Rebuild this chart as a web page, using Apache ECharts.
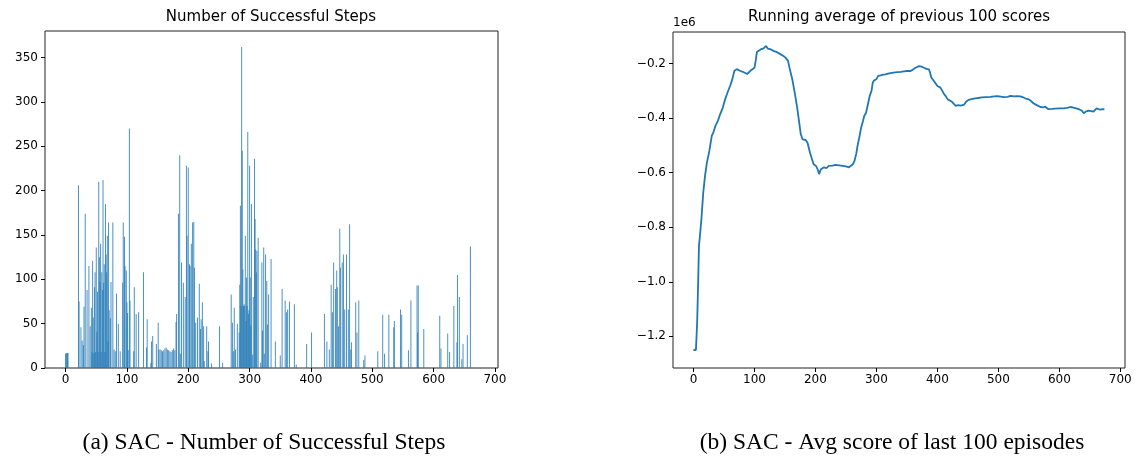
<!DOCTYPE html>
<html>
<head>
<meta charset="utf-8">
<script src="https://cdn.jsdelivr.net/npm/echarts@6/dist/echarts.min.js"></script>
<style>
  html, body { margin: 0; padding: 0; background: #fff; }
  #main { width: 1136px; height: 460px; }
</style>
</head>
<body>
<div id="main"></div>
<script>
// episodes with a non-zero number of successful steps (all others are 0)
var stepEpisodes = [0, 1, 2, 3, 4, 21, 22, 25, 27, 29, 30, 32, 35, 38, 40, 42, 43, 44, 45, 46, 47, 48, 49, 50,
  51, 52, 53, 54, 55, 56, 57, 58, 59, 60, 61, 62, 63, 64, 65, 66, 67, 68, 69, 70, 71, 73, 74, 77, 79, 81, 83,
  86, 89, 93, 94, 96, 97, 99, 100, 101, 102, 104, 105, 111, 112, 115, 119, 127, 132, 133, 139, 140, 142, 148,
  151, 152, 154, 156, 158, 160, 162, 164, 166, 168, 170, 172, 174, 176, 178, 180, 181, 184, 186, 187, 189,
  192, 195, 197, 198, 200, 202, 203, 205, 207, 209, 210, 212, 215, 218, 220, 221, 223, 225, 226, 230, 232,
  233, 238, 251, 256, 270, 272, 274, 275, 277, 280, 283, 284, 285, 286, 287, 288, 289, 290, 291, 292, 293,
  294, 295, 296, 297, 298, 299, 300, 301, 302, 303, 305, 306, 308, 309, 310, 311, 312, 314, 318, 320, 321,
  323, 324, 326, 328, 329, 331, 335, 342, 350, 353, 358, 360, 362, 365, 373, 376, 393, 401, 422, 426, 430,
  433, 435, 437, 440, 442, 443, 445, 447, 448, 451, 453, 455, 458, 461, 463, 465, 466, 473, 475, 478, 486,
  488, 509, 517, 520, 527, 535, 536, 546, 548, 559, 563, 573, 574, 575, 584, 610, 612, 623, 626, 633, 638,
  639, 642, 646, 648, 655, 660];
var stepCounts = [16, 17, 16, 17, 17, 206, 75, 46, 31, 26, 69, 174, 88, 115, 47, 68, 18, 121, 57, 17, 91, 108, 18, 136,
  41, 86, 18, 210, 125, 97, 140, 18, 108, 88, 212, 96, 117, 18, 185, 128, 108, 149, 30, 164, 65, 56, 97, 164, 21, 19, 84,
  50, 19, 96, 164, 148, 115, 110, 74, 62, 20, 270, 76, 19, 91, 61, 63, 108, 23, 55, 6, 30, 36, 27,
  51, 21, 21, 20, 19, 20, 22, 23, 21, 20, 19, 18, 20, 22, 20, 52, 61, 174, 240, 16, 119,
  96, 80, 228, 149, 226, 117, 115, 140, 164, 165, 113, 51, 57, 95, 44, 55, 74, 47, 8, 47, 19,
  30, 5, 47, 6, 83, 51, 19, 68, 21, 50, 40, 94, 183, 70, 362, 245, 111, 70, 72, 70, 149,
  53, 102, 70, 266, 61, 65, 228, 102, 48, 185, 15, 80, 236, 168, 134, 108, 132, 147, 6, 119, 42,
  136, 16, 128, 98, 49, 83, 123, 30, 14, 89, 76, 63, 66, 75, 72, 4, 27, 40, 61, 30, 21,
  94, 63, 119, 89, 110, 91, 47, 157, 113, 119, 128, 66, 128, 66, 162, 21, 29, 74, 40, 76, 9,
  14, 19, 60, 16, 60, 46, 53, 66, 60, 20, 76, 93, 40, 93, 44, 59, 22, 39, 18, 70, 29,
  105, 80, 10, 27, 37, 137];

// running average of previous 100 scores (units of 1e6)
var avgEpisodes = [0, 2, 4, 5, 6, 7, 9, 11, 13, 16, 19, 22, 26, 30, 33, 36, 40, 43, 48, 52, 56, 60, 64, 67, 71,
  74, 77, 81, 84, 88, 91, 95, 100, 102, 104, 107, 110, 115, 119, 122, 127, 132, 137, 143, 147, 151, 155,
  158, 162, 166, 170, 173, 176, 179, 181, 184, 187, 191, 194, 197, 201, 204, 206, 209, 214, 218, 222, 228,
  233, 239, 245, 250, 255, 258, 261, 264, 267, 269, 272, 275, 278, 280, 283, 285, 287, 289, 292, 294, 296,
  300, 303, 307, 311, 315, 319, 323, 328, 334, 340, 345, 350, 356, 360, 364, 367, 370, 374, 378, 382,
  386, 388, 390, 392, 394, 397, 400, 403, 405, 408, 411, 414, 417, 420, 424, 427, 430, 434, 438, 441,
  444, 447, 451, 456, 462, 467, 473, 480, 487, 493, 498, 504, 509, 515, 520, 526, 531, 536, 541, 545,
  550, 554, 558, 563, 569, 573, 577, 582, 588, 593, 600, 607, 613, 618, 623, 629, 633, 637, 640, 644,
  648, 652, 656, 659, 661, 664, 667, 671, 674];
var avgScores = [-1.250, -1.252, -1.250, -1.256, -1.150, -1.063, -0.868, -0.820, -0.770, -0.673, -0.610, -0.563,
  -0.520, -0.465, -0.450, -0.428, -0.410, -0.390, -0.362, -0.330, -0.305, -0.282, -0.255, -0.227, -0.220,
  -0.225, -0.227, -0.230, -0.235, -0.238, -0.243, -0.223, -0.215, -0.190, -0.157, -0.152, -0.148, -0.144,
  -0.135, -0.145, -0.148, -0.154, -0.158, -0.166, -0.171, -0.178, -0.190, -0.220, -0.257, -0.306, -0.360,
  -0.410, -0.459, -0.478, -0.483, -0.480, -0.490, -0.526, -0.548, -0.569, -0.575, -0.590, -0.605, -0.587,
  -0.580, -0.583, -0.575, -0.574, -0.571, -0.573, -0.575, -0.577, -0.580, -0.582, -0.570, -0.557, -0.530,
  -0.502, -0.470, -0.434, -0.410, -0.392, -0.380, -0.373, -0.340, -0.318, -0.300, -0.270, -0.262, -0.257,
  -0.245, -0.243, -0.240, -0.239, -0.237, -0.235, -0.233, -0.231, -0.230, -0.228, -0.227, -0.227, -0.222,
  -0.215, -0.212, -0.209, -0.211, -0.215, -0.219, -0.221, -0.232, -0.251, -0.245, -0.263, -0.270, -0.282,
  -0.276, -0.288, -0.300, -0.312, -0.320, -0.331, -0.335, -0.340, -0.346, -0.355, -0.352, -0.354, -0.348,
  -0.350, -0.340, -0.333, -0.330, -0.327, -0.326, -0.324, -0.323, -0.322, -0.320, -0.319, -0.321, -0.323,
  -0.322, -0.318, -0.320, -0.319, -0.320, -0.324, -0.328, -0.331, -0.338, -0.346, -0.352, -0.359, -0.360,
  -0.358, -0.367, -0.366, -0.365, -0.364, -0.364, -0.362, -0.359, -0.361, -0.365, -0.368, -0.373, -0.382,
  -0.375, -0.372, -0.374, -0.376, -0.370, -0.364, -0.366, -0.369, -0.367, -0.368];

var xTicks = [0, 100, 200, 300, 400, 500, 600, 700];
var stepTicks = [0, 50, 100, 150, 200, 250, 300, 350];
var scoreTicks = [-1.2, -1.0, -0.8, -0.6, -0.4, -0.2];

var myChart = echarts.init(document.getElementById('main'));

var FONT = 'DejaVu Sans';
var axisText = { color: '#000', fontFamily: FONT, fontSize: 12 };

function xAxisFor(idx, max) {
  return {
    type: 'value', gridIndex: idx, min: -33.6, max: max,
    axisLine: { show: false, onZero: false },
    splitLine: { show: false },
    axisTick: { show: true, length: 4, customValues: xTicks, lineStyle: { color: '#000' } },
    axisLabel: Object.assign({ margin: 6, customValues: xTicks }, axisText)
  };
}

function yAxisFor(idx, min, max, ticks, fmt) {
  var label = Object.assign({ margin: 7, customValues: ticks }, axisText);
  if (fmt) label.formatter = fmt;
  return {
    type: 'value', gridIndex: idx, min: min, max: max,
    axisLine: { show: false, onZero: false }, splitLine: { show: false },
    axisTick: { show: true, length: 4, customValues: ticks, lineStyle: { color: '#000' } },
    axisLabel: label
  };
}

var stepData = stepEpisodes.map(function (ep, i) { return [ep, stepCounts[i]]; });
var avgData = avgEpisodes.map(function (ep, i) { return [ep, avgScores[i]]; });

var titleStyle = { fontFamily: FONT, fontSize: 15, fontWeight: 'normal', color: '#000' };

var option = {
  animation: false,
  backgroundColor: '#fff',
  title: [
    { text: 'Number of Successful Steps', left: 271, top: 10, textAlign: 'center', padding: 0, textStyle: titleStyle },
    { text: 'Running average of previous 100 scores', left: 899, top: 10, textAlign: 'center', padding: 0, textStyle: titleStyle }
  ],
  grid: [
    { left: 45, top: 31, width: 453, height: 337, show: true, borderColor: '#222', borderWidth: 1 },
    { left: 673, top: 32, width: 452, height: 336, show: true, borderColor: '#222', borderWidth: 1 }
  ],
  xAxis: [xAxisFor(0, 705), xAxisFor(1, 707.7)],
  yAxis: [
    yAxisFor(0, 0, 380, stepTicks),
    yAxisFor(1, -1.316, -0.084, scoreTicks, function (v) { return v.toFixed(1).replace('-', '\u2212'); })
  ],
  series: [
    {
      type: 'bar', xAxisIndex: 0, yAxisIndex: 0, data: stepData,
      barWidth: 1, itemStyle: { color: '#1f77b4', opacity: 0.8 }
    },
    {
      type: 'line', xAxisIndex: 1, yAxisIndex: 1, data: avgData,
      showSymbol: false, symbol: 'none',
      lineStyle: { color: '#1f77b4', width: 1.8 }
    }
  ],
  graphic: [
    { type: 'text', left: 673, top: 17, style: { text: '1e6', fill: '#000', font: '12px "DejaVu Sans"' } },
    { type: 'text', x: 264, y: 443, style: { text: '(a) SAC - Number of Successful Steps', fill: '#000',
      font: '23.5px "Liberation Serif"', align: 'center', verticalAlign: 'middle' } },
    { type: 'text', x: 892, y: 443, style: { text: '(b) SAC - Avg score of last 100 episodes', fill: '#000',
      font: '23.5px "Liberation Serif"', align: 'center', verticalAlign: 'middle' } }
  ]
};
myChart.setOption(option);
</script>
</body>
</html>
